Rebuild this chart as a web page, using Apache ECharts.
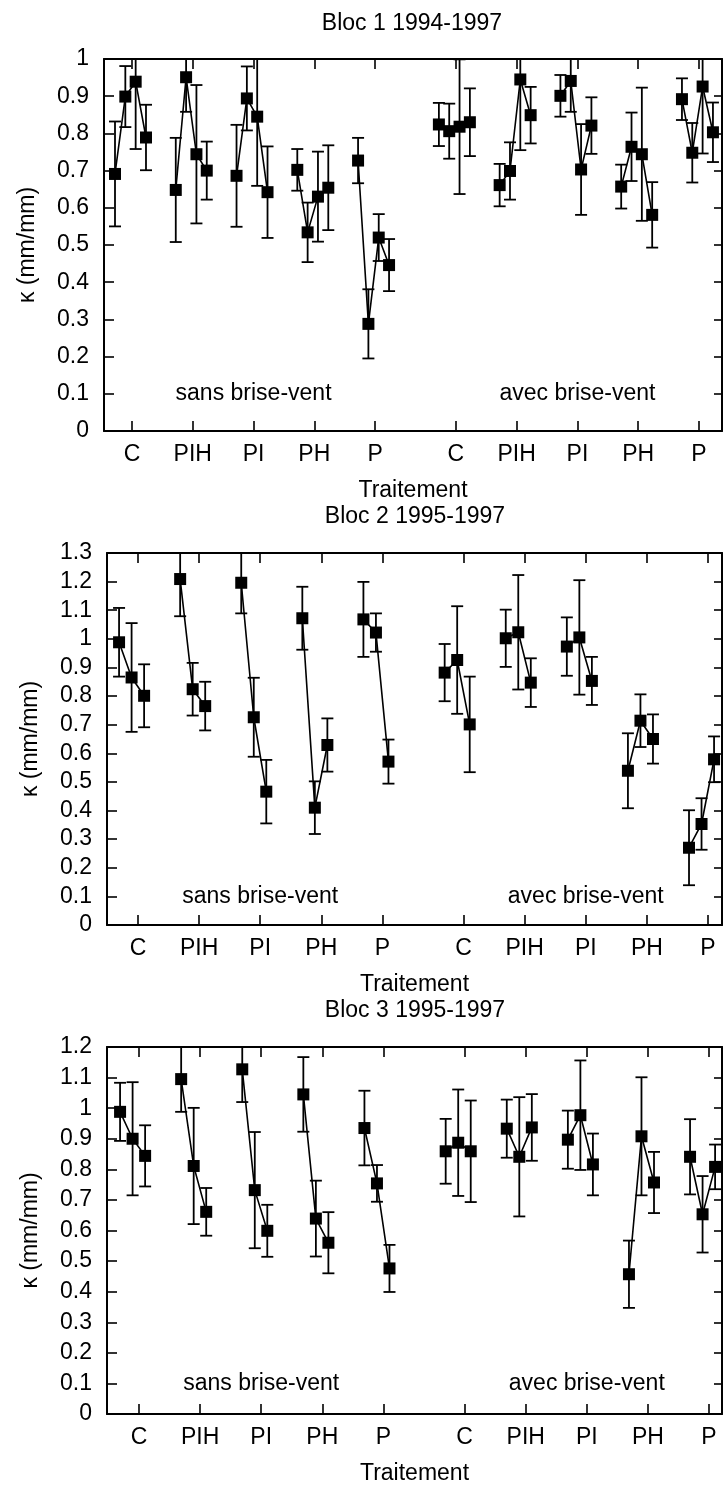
<!DOCTYPE html>
<html>
<head>
<meta charset="utf-8">
<script src="https://cdn.jsdelivr.net/npm/echarts@6/dist/echarts.min.js"></script>
<style>
html,body{margin:0;padding:0;background:#fff;}
#chart{width:723px;height:1489px;}
</style>
</head>
<body>
<div id="chart"></div>
<script>
// ---- Data ----
const treatments = ['C', 'PIH', 'PI', 'PH', 'P', 'C', 'PIH', 'PI', 'PH', 'P'];
const zoneLabels = ['sans brise-vent', 'avec brise-vent'];
const titles = ['Bloc 1 1994-1997', 'Bloc 2 1995-1997', 'Bloc 3 1995-1997'];
const xAxisName = 'Traitement';
const yAxisName = 'κ (mm/mm)';

// Bloc 1 (1994, 1995, 1996, 1997) per treatment
const bloc1Values = [
  [0.691, 0.899, 0.939, 0.789],
  [0.648, 0.951, 0.744, 0.700],
  [0.686, 0.894, 0.845, 0.642],
  [0.702, 0.534, 0.630, 0.654],
  [0.727, 0.288, 0.520, 0.446],
  [0.824, 0.806, 0.818, 0.830],
  [0.661, 0.699, 0.945, 0.849],
  [0.901, 0.941, 0.703, 0.821],
  [0.657, 0.764, 0.744, 0.581],
  [0.892, 0.748, 0.926, 0.803]
];
const bloc1Errors = [
  [0.141, 0.082, 0.181, 0.088],
  [0.140, 0.093, 0.186, 0.078],
  [0.137, 0.086, 0.186, 0.123],
  [0.056, 0.080, 0.121, 0.114],
  [0.061, 0.093, 0.063, 0.070],
  [0.058, 0.074, 0.181, 0.091],
  [0.057, 0.077, 0.190, 0.076],
  [0.056, 0.083, 0.122, 0.076],
  [0.059, 0.092, 0.179, 0.088],
  [0.056, 0.080, 0.180, 0.080]
];
// Bloc 2 (1995, 1996, 1997)
const bloc2Values = [
  [0.988, 0.865, 0.801],
  [1.209, 0.824, 0.765],
  [1.196, 0.726, 0.466],
  [1.072, 0.410, 0.629],
  [1.068, 1.022, 0.571],
  [0.882, 0.926, 0.701],
  [1.002, 1.023, 0.847],
  [0.973, 1.005, 0.853],
  [0.539, 0.714, 0.650],
  [0.270, 0.353, 0.579]
];
const bloc2Errors = [
  [0.120, 0.190, 0.110],
  [0.130, 0.092, 0.085],
  [0.107, 0.138, 0.111],
  [0.110, 0.092, 0.093],
  [0.131, 0.067, 0.077],
  [0.100, 0.188, 0.167],
  [0.100, 0.200, 0.085],
  [0.102, 0.200, 0.084],
  [0.131, 0.092, 0.086],
  [0.131, 0.090, 0.080]
];
// Bloc 3 (1995, 1996, 1997)
const bloc3Values = [
  [0.988, 0.900, 0.844],
  [1.095, 0.811, 0.661],
  [1.127, 0.732, 0.599],
  [1.045, 0.639, 0.560],
  [0.935, 0.754, 0.476],
  [0.859, 0.887, 0.859],
  [0.933, 0.841, 0.937],
  [0.897, 0.977, 0.816],
  [0.457, 0.908, 0.757],
  [0.841, 0.653, 0.808]
];
const bloc3Errors = [
  [0.095, 0.185, 0.100],
  [0.107, 0.190, 0.078],
  [0.107, 0.190, 0.085],
  [0.122, 0.124, 0.100],
  [0.122, 0.060, 0.077],
  [0.106, 0.174, 0.166],
  [0.095, 0.195, 0.109],
  [0.095, 0.179, 0.101],
  [0.110, 0.193, 0.100],
  [0.123, 0.125, 0.073]
];

// ---- Layout ----
const tickPositions = [1, 2, 3, 4, 5, 6.33, 7.33, 8.33, 9.33, 10.33];
const zoneLabelPos = [[3, 0.1], [8.33, 0.1]];
const FONT = '"Liberation Sans", Arial, Helvetica, sans-serif';
const FS = 23;

const panels = [
  { vals: bloc1Values, errs: bloc1Errors, offsets: [-0.28, -0.11, 0.06, 0.23],
    grid: { left: 104, top: 59, width: 618, height: 372 }, xMin: 0.539, xMax: 10.709, yMax: 1,
    titleX: 412, titleY: 24 },
  { vals: bloc2Values, errs: bloc2Errors, offsets: [-0.31, -0.105, 0.10],
    grid: { left: 107, top: 553, width: 615, height: 372 }, xMin: 0.4925, xMax: 10.56, yMax: 1.3,
    titleX: 415, titleY: 517 },
  { vals: bloc3Values, errs: bloc3Errors, offsets: [-0.31, -0.105, 0.10],
    grid: { left: 107, top: 1047, width: 615, height: 367 }, xMin: 0.476, xMax: 10.543, yMax: 1.2,
    titleX: 415, titleY: 1011 }
];

function labelFor(v) {
  for (let i = 0; i < tickPositions.length; i++) {
    if (Math.abs(tickPositions[i] - v) < 0.01) return treatments[i];
  }
  return '';
}

const axisLineStyle = { show: true, onZero: false, lineStyle: { color: '#000', width: 2 } };
const tickStyle = { color: '#000', width: 1.6 };

function renderErr(params, api) {
  const x = api.value(0), y = api.value(1), e = api.value(2);
  const top = api.coord([x, y + e]);
  const bot = api.coord([x, y - e]);
  const cs = params.coordSys;
  const px = top[0];
  const y1 = Math.max(top[1], cs.y);
  const y2 = Math.min(bot[1], cs.y + cs.height);
  const st = { stroke: '#000', lineWidth: 1.8 };
  const children = [{ type: 'line', shape: { x1: px, y1: y1, x2: px, y2: y2 }, style: st }];
  const hw = 6;
  if (top[1] >= cs.y) children.push({ type: 'line', shape: { x1: px - hw, y1: top[1], x2: px + hw, y2: top[1] }, style: st });
  if (bot[1] <= cs.y + cs.height) children.push({ type: 'line', shape: { x1: px - hw, y1: bot[1], x2: px + hw, y2: bot[1] }, style: st });
  return { type: 'group', children: children };
}

const grids = [], xAxes = [], yAxes = [], series = [], graphics = [];
panels.forEach((p, pi) => {
  grids.push(Object.assign({ containLabel: false }, p.grid));
  const xb = xAxes.length;
  xAxes.push({
    type: 'value', gridIndex: pi, position: 'bottom', min: p.xMin, max: p.xMax,
    axisLine: axisLineStyle, splitLine: { show: false },
    axisTick: { show: true, inside: true, length: 10, lineStyle: tickStyle, customValues: tickPositions },
    axisLabel: { show: true, customValues: tickPositions, formatter: labelFor, color: '#000',
      fontSize: FS, fontFamily: FONT, margin: 12 },
    name: xAxisName, nameLocation: 'middle', nameGap: 48,
    nameTextStyle: { color: '#000', fontSize: FS, fontFamily: FONT }
  });
  xAxes.push({
    type: 'value', gridIndex: pi, position: 'top', min: p.xMin, max: p.xMax,
    axisLine: axisLineStyle, splitLine: { show: false },
    axisTick: { show: true, inside: true, length: 10, lineStyle: tickStyle, customValues: tickPositions },
    axisLabel: { show: false }
  });
  const yl = yAxes.length;
  yAxes.push({
    type: 'value', gridIndex: pi, position: 'left', min: 0, max: p.yMax, interval: 0.1,
    axisLine: axisLineStyle, splitLine: { show: false },
    axisTick: { show: true, inside: true, length: 10, lineStyle: tickStyle },
    axisLabel: { color: '#000', fontSize: FS, fontFamily: FONT, margin: 15 },
    name: yAxisName, nameLocation: 'middle', nameGap: 65,
    nameTextStyle: { color: '#000', fontSize: FS, fontFamily: FONT }
  });
  yAxes.push({
    type: 'value', gridIndex: pi, position: 'right', min: 0, max: p.yMax, interval: 0.1,
    axisLine: axisLineStyle, splitLine: { show: false },
    axisTick: { show: true, inside: true, length: 8, lineStyle: tickStyle },
    axisLabel: { show: false }
  });

  const errData = [];
  p.vals.forEach((grp, g) => {
    const pts = grp.map((v, j) => [tickPositions[g] + p.offsets[j], v]);
    grp.forEach((v, j) => errData.push([tickPositions[g] + p.offsets[j], v, p.errs[g][j]]));
    series.push({
      type: 'line', xAxisIndex: xb, yAxisIndex: yl, data: pts,
      symbol: 'rect', symbolSize: 12, showSymbol: true, clip: false,
      lineStyle: { color: '#000', width: 1.6 }, itemStyle: { color: '#000' },
      z: 3, animation: false, silent: true
    });
  });
  series.push({
    type: 'custom', xAxisIndex: xb, yAxisIndex: yl, data: errData,
    dimensions: ['x', 'y', 'e'], encode: { x: 0, y: 1 },
    renderItem: renderErr, z: 2, animation: false, silent: true
  });
  graphics.push({
    type: 'text', x: p.titleX, y: p.titleY,
    style: { text: titles[pi], fill: '#000', fontSize: FS, fontFamily: FONT, align: 'center', verticalAlign: 'middle' }
  });
});

const chart = echarts.init(document.getElementById('chart'), null, { renderer: 'canvas' });
chart.setOption({
  animation: false,
  backgroundColor: '#fff',
  grid: grids,
  xAxis: xAxes,
  yAxis: yAxes,
  series: series,
  graphic: graphics
});

// zone labels placed through the axes' own scales
panels.forEach((p, pi) => {
  zoneLabelPos.forEach((q, k) => {
    const px = chart.convertToPixel({ xAxisIndex: pi * 2, yAxisIndex: pi * 2 }, q);
    graphics.push({
      type: 'text', x: px[0], y: px[1],
      style: { text: zoneLabels[k], fill: '#000', fontSize: FS, fontFamily: FONT, align: 'center', verticalAlign: 'middle' }
    });
  });
});
chart.setOption({ graphic: graphics });
</script>
</body>
</html>
